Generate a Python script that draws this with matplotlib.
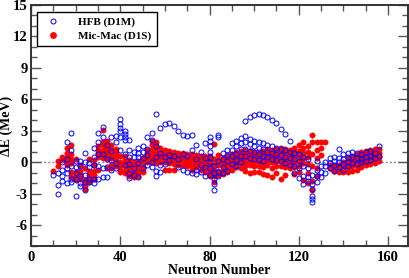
import matplotlib
matplotlib.use("Agg")
from matplotlib import pyplot as plt
from matplotlib.ticker import MultipleLocator
from matplotlib.lines import Line2D

# neutron numbers (even-even nuclei) and dE values, one list per N
neutrons = list(range(10, 158, 2))

micmac_d1s = [
    [-0.8], [0.1, -0.4], [0.5, 0.2, 0.3], [1.4, 0.9, 0.5, 0.0, -0.3],
    [1.6, 0.8, 0.3, -0.1, -0.9, -1.4], [-0.9, -1.2, -1.5, -1.7, 0.3],
    [-0.8, -1.1, -1.4, -1.6, -0.3], [-0.6, -1.7, -2.0, -2.3, -2.6],
    [-0.8, -1.2, -1.5, -1.9, 0.3], [0.2, -0.3, -0.8, -1.2, -1.6],
    [1.5, 1.2, 0.9, 0.5, -0.7], [3.1, 1.9, 1.6, 1.2, 0.8, 0.4],
    [2.0, 1.7, 1.4, 1.0, 0.7, 0.4, -0.6], [1.6, 1.3, 1.0, 0.7, 0.4, -0.3, -0.6],
    [1.3, 1.0, 0.6, 0.2, -0.2, -0.4], [0.6, 0.0, -0.4, -0.7, -0.9],
    [0.6, 0.3, 0.0, -0.4, -0.8, -1.0], [0.2, -0.2, -0.6, -1.0, -1.3],
    [0.0, -0.4, -0.8, -1.1, -1.4], [0.1, -0.3, -0.7, -1.0, -1.3],
    [0.4, 0.0, -0.5, -0.9], [1.2, 0.9, 0.6, 0.3, 0.0],
    [2.0, 1.6, 1.2, 0.8, 0.5, 0.1], [1.9, 1.5, 1.1, 0.7, 0.3, -0.1],
    [1.4, 1.1, 0.8, 0.4, 0.0], [1.2, 0.9, 0.6, 0.3, 0.0, -0.7],
    [1.1, 0.8, 0.5, 0.2, -0.1, -0.7], [1.0, 0.7, 0.4, 0.1, -0.2, -0.7],
    [0.9, 0.6, 0.3, 0.0, -0.3], [0.9, 0.6, 0.3, 0.0, -0.3],
    [0.8, 0.5, 0.2, -0.1, -0.4], [0.8, 0.5, 0.2, -0.1, -0.4, -0.7],
    [0.7, 0.4, 0.1, -0.2, -0.5], [0.6, 0.3, 0.0, -0.3, -0.7],
    [0.6, 0.2, -0.2, -0.6, -0.9], [0.6, 0.2, -0.3, -0.7, -1.0, -1.3],
    [1.7, 0.3, -0.3, -0.8, -1.3, -1.9], [0.7, 0.2, -0.3, -0.8, -1.2],
    [0.4, 0.0, -0.4, -0.8, -1.1], [0.6, 0.2, -0.2, -0.6, -0.9],
    [0.8, 0.4, 0.0, -0.4, -0.7], [1.0, 0.6, 0.2, -0.2, -0.5],
    [1.1, 0.7, 0.3, -0.1, -0.6], [1.2, 0.8, 0.4, 0.0, -0.4, -0.8],
    [1.1, 0.8, 0.4, 0.1, -0.3, -1.0], [1.0, 0.7, 0.4, 0.0, -0.4, -0.9],
    [1.0, 0.7, 0.3, 0.0, -0.4, -0.9], [1.1, 0.7, 0.4, 0.0, -0.5, -1.1],
    [1.3, 0.9, 0.5, 0.1, -0.3, -1.2], [1.2, 0.8, 0.4, 0.0, -0.6, -1.4],
    [1.3, 0.9, 0.5, 0.1, -0.4, -1.0], [1.4, 1.0, 0.5, 0.1, -0.4, -1.6],
    [1.3, 0.9, 0.4, 0.0, -0.5, -1.2], [1.2, 0.8, 0.3, -0.1, -0.6],
    [1.4, 1.0, 0.5, 0.0, -0.5, -1.1], [1.6, 1.1, 0.6, 0.1, -0.4, -0.9],
    [1.9, 1.4, 0.9, 0.4, -0.1, -1.7], [1.5, 1.0, 0.5, -0.2, -1.0, -2.0],
    [2.6, 1.9, 0.8, -0.4, -1.8, -2.7], [1.9, 1.2, 0.4, -0.6, -1.3],
    [1.9, 1.4, 0.7], [1.9], [-0.3, -0.6], [-0.4, -0.8],
    [-0.3, -0.6, -0.9], [0.0, -0.3, -0.6, -0.9],
    [0.4, 0.1, -0.2, -0.5, -0.9], [0.6, 0.3, 0.0, -0.4, -0.8],
    [0.8, 0.5, 0.1, -0.3, -0.7], [1.0, 0.7, 0.3, -0.1, -0.5],
    [1.1, 0.8, 0.4, 0.0, -0.3], [1.2, 0.9, 0.5, 0.1, -0.2],
    [1.3, 1.0, 0.6, 0.2, -0.1], [1.3, 0.9, 0.5, 0.1],
]

hfb_d1m = [
    [-1.2], [-1.0, -2.2, -3.0], [-0.7, -1.3, -1.8, 0.0], [1.9, -0.6, -1.0, -2.0, 0.3],
    [2.8, 1.2, -0.4, -1.9, -1.6], [0.1, -1.0, -1.6, -3.2, -0.5],
    [0.1, -0.4, -1.3, -2.3, -2.0], [0.9, 0.0, -1.9, -2.7, -1.2],
    [-0.1, -1.9, -1.6, -0.5], [1.4, 0.5, -0.3, -1.6, -2.0],
    [2.8, 1.9, 0.8, -0.4, -1.6], [3.4, 2.4, 0.8, -0.6, -1.4],
    [1.6, -0.5, -1.4, 0.3], [2.4, 1.1, -0.7, 0.2],
    [2.5, 1.9, -0.1, -0.6], [4.1, 3.6, 3.3, 3.0, 2.4, 1.2],
    [3.0, 2.7, 2.4, 2.1, 0.8, -0.3], [2.1, 1.2, 0.5, -0.2, -1.0, -1.5],
    [1.0, 0.5, -0.6, -1.2], [1.4, 0.9, 0.5, -0.1, -1.4],
    [1.5, 1.0, 0.4, -0.6], [2.4, 1.3, 0.7, -0.3],
    [2.8, 2.1, 0.0, -0.5], [4.6, 1.5, 0.5, -0.8, -1.3],
    [3.3, 0.9, -0.3, -0.9], [3.6, 0.5, -0.2], [3.7, 0.2, 0.7], [3.5, 0.6],
    [3.0, 0.3, -0.5], [2.6, 0.8, -0.7], [2.5, 0.6, -0.9], [2.6, 1.2, -1.0],
    [1.6, 0.3, -0.7, -1.1], [1.0, -0.3, -0.9], [1.8, 0.4, -0.5, -1.3],
    [2.4, 2.0, 1.5, 1.0, 0.5, 0.0, -0.6, -1.2],
    [-0.4, -1.0, -1.6, -2.1, -2.7], [2.6, 2.4, 0.1, -0.9, -1.3],
    [0.9, 0.3, -0.5, -1.0], [1.2, 0.7, 0.1, -0.8], [1.8, 1.2, 0.6, -0.2],
    [2.0, 1.5, 0.8, 0.2, -0.4], [2.3, 1.8, 1.3, 0.6, 0.0],
    [3.9, 2.5, 1.9, 1.3, 0.6], [4.3, 2.2, 1.7, 1.1, 0.4],
    [4.5, 2.0, 1.5, 1.0, 0.3], [4.6, 1.9, 1.4, 0.8, 0.2],
    [4.5, 1.8, 1.3, 0.6, 0.1], [4.3, 1.6, 1.0, 0.5], [4.0, 1.5, 0.9, 0.3],
    [3.7, 1.4, 0.8, 0.2], [3.2, 1.3, 0.7, 0.1], [2.7, 1.2, 0.5, -0.1],
    [2.0, 1.0, 0.4, -0.3], [0.9, 0.3, -0.4, -1.0], [0.8, 0.1, -0.6, -1.5],
    [0.5, -0.4, -1.3, -2.1], [0.3, -0.6, -1.4, -1.8],
    [-1.2, -2.1, -2.6, -3.2, -3.5, -3.8], [0.1, -0.7, -1.3, -1.9],
    [-0.4, -0.9, -1.4], [0.0, -0.4, -1.0], [0.4, -0.1, -0.6],
    [0.5, 0.1, -0.3, -0.8], [1.3, 0.4, 0.0, -0.5], [0.8, 0.3, -0.2, -0.7],
    [0.9, 0.5, 0.0, -0.4], [1.0, 0.5, -0.1], [0.9, 0.4, -0.2],
    [0.8, 0.3, 0.0], [1.0, 0.5, 0.1], [1.1, 0.6, 0.2], [0.9, 0.4], [1.5, 0.6],
]

def flatten(cols):
    xs, ys = [], []
    for n, vals in zip(neutrons, cols):
        for v in vals:
            xs.append(n)
            ys.append(v)
    return xs, ys

plt.rcParams['font.family'] = ['Liberation Serif', 'DejaVu Serif']
plt.rcParams['font.weight'] = 'bold'
plt.rcParams['axes.unicode_minus'] = False

fig = plt.figure(figsize=(4.10, 2.78), dpi=100)
ax = fig.add_axes([0.076, 0.115, 0.919, 0.867])

ax.axhline(0, color='#888888', ls=(0, (1.5, 1.5)), lw=1.0, zorder=1)

mx, my = flatten(micmac_d1s)
hx, hy = flatten(hfb_d1m)
ax.plot(mx, my, 'o', ms=3.9, mfc='#ff0000', mec='#ff0000', mew=0.3, ls='none', zorder=2)
ax.plot(hx, hy, 'o', ms=3.6, mfc='none', mec='#0000ff', mew=0.7, ls='none', zorder=3)

ax.set_xlim(0, 169)
ax.set_ylim(-8, 15)
ax.xaxis.set_major_locator(MultipleLocator(40))
ax.xaxis.set_minor_locator(MultipleLocator(10))
ax.yaxis.set_major_locator(MultipleLocator(3))
ax.yaxis.set_minor_locator(MultipleLocator(1))
ax.tick_params(which='both', direction='in', top=True, right=True, color='#555555',
               labelsize=10.5)
ax.tick_params(axis='x', pad=3.5)
ax.tick_params(axis='y', pad=2.5)
ax.tick_params(which='major', length=7, width=1.0)
ax.tick_params(which='minor', length=4, width=1.0)
for s in ax.spines.values():
    s.set_color('#333333')
    s.set_linewidth(1.4)
for lab in ax.get_xticklabels() + ax.get_yticklabels():
    lab.set_fontweight('bold')

ax.set_xlabel('Neutron Number', fontsize=10, fontweight='bold', labelpad=0)
ax.set_ylabel('ΔE (MeV)', fontsize=10, fontweight='bold', labelpad=0)

handles = [
    Line2D([], [], marker='o', ls='none', ms=3.6, mfc='none', mec='#0000ff', mew=0.7),
    Line2D([], [], marker='o', ls='none', ms=3.9, mfc='#ff0000', mec='#ff0000'),
]
leg = ax.legend(handles, ['HFB (D1M)', 'Mic-Mac (D1S)'], loc='upper left',
                bbox_to_anchor=(0.015, 0.972), fancybox=False, framealpha=1,
                edgecolor='black', prop={'weight': 'bold', 'size': 8},
                handletextpad=1.3, borderpad=0.45, labelspacing=0.35, borderaxespad=0)
leg.get_frame().set_linewidth(1.0)

fig.savefig('out.png', dpi=100)
